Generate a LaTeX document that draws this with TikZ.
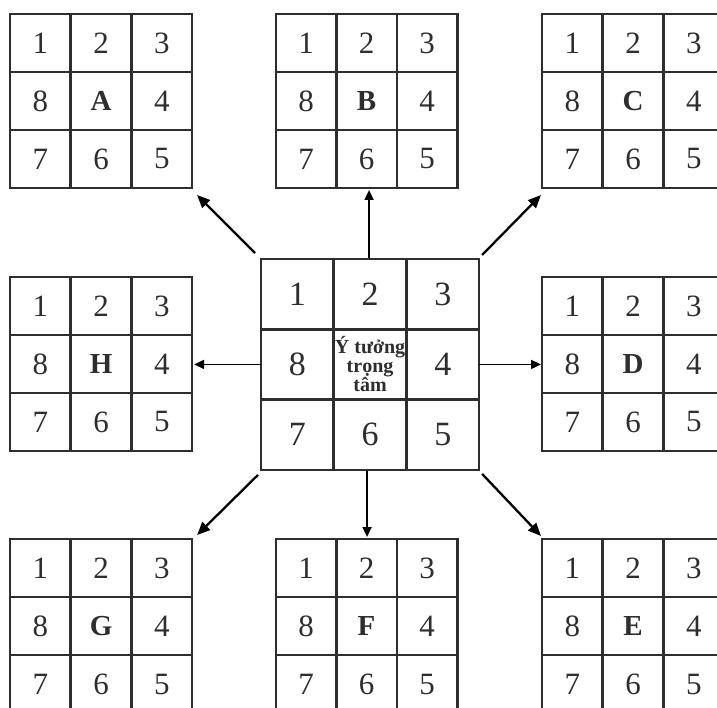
\documentclass[tikz,border=0pt]{standalone}
\usepackage{fontspec}
\setmainfont{Liberation Serif}
\usetikzlibrary{arrows.meta,calc}
\definecolor{ink}{HTML}{2E2E2E}
\tikzset{
  x=1pt, y=-1pt,
  cellbox/.style={draw=ink, line width=2.6pt, inner sep=0pt, outer sep=0pt,
    align=center, text=ink},
  outerfont/.style={font=\fontsize{31}{31}\selectfont},
  centerfont/.style={font=\fontsize{34}{34}\selectfont},
  letterfont/.style={font=\fontsize{29}{29}\selectfont\bfseries},
  ideafont/.style={font=\fontsize{20}{18.5}\selectfont\bfseries},
  frame/.style={draw=none, inner sep=0pt, outer sep=0pt},
  diagarrow/.style={line width=2.3pt, draw=black, -{Triangle[length=13pt,width=11pt]}},
  straightarrow/.style={line width=1.7pt, draw=black, -{Triangle[length=10pt,width=9pt]}}
}
\newcommand\gridname{}
\newcommand\gx{0}\newcommand\gy{0}\newcommand\gw{0}\newcommand\gh{0}
% one cell: #1 row, #2 col, #3 style, #4 text
\newcommand\onecell[4]{%
  \node[cellbox, #3, minimum width=\gw pt, minimum height=\gh pt]
    (\gridname-#1#2) at ({\gx+(#2+0.5)*\gw},{\gy+(#1+0.5)*\gh}) {#4};%
}
% #1 name, #2 left x, #3 top y, #4 cell w, #5 cell h, #6 centre text, #7 digit style, #8 centre style
\newcommand\ninegrid[8]{%
  \renewcommand\gridname{#1}\renewcommand\gx{#2}\renewcommand\gy{#3}%
  \renewcommand\gw{#4}\renewcommand\gh{#5}%
  \onecell{0}{0}{#7}{1}\onecell{0}{1}{#7}{2}\onecell{0}{2}{#7}{3}%
  \onecell{1}{0}{#7}{8}\onecell{1}{1}{#8}{#6}\onecell{1}{2}{#7}{4}%
  \onecell{2}{0}{#7}{7}\onecell{2}{1}{#7}{6}\onecell{2}{2}{#7}{5}%
  \node[frame, minimum width={3*#4pt}, minimum height={3*#5pt}]
    (#1) at ({#2+1.5*#4},{#3+1.5*#5}) {};%
}
\begin{document}
\begin{tikzpicture}
\useasboundingbox (0,0) rectangle (717,708);
\fill[white] (0,0) rectangle (717,708);
\clip (0,0) rectangle (717,708);

% centre grid
\ninegrid{ctr}{261}{259}{72.7}{70.3}{Ý tưởng\\trọng\\tâm}{centerfont}{ideafont}

% outer grids
\ninegrid{A}{10}{14}{60.7}{58}{A}{outerfont}{letterfont}
\ninegrid{B}{276}{14}{60.4}{58}{B}{outerfont}{letterfont}
\ninegrid{C}{542}{14}{60.7}{58}{C}{outerfont}{letterfont}
\ninegrid{H}{10}{277}{60.7}{58}{H}{outerfont}{letterfont}
\ninegrid{D}{542}{277}{60.7}{58}{D}{outerfont}{letterfont}
\ninegrid{G}{10}{539}{60.7}{58}{G}{outerfont}{letterfont}
\ninegrid{F}{276}{539}{60.4}{58}{F}{outerfont}{letterfont}
\ninegrid{E}{542}{539}{60.7}{58}{E}{outerfont}{letterfont}

% connectors
\draw[diagarrow] ([shift={(-6,-6)}]ctr.north west) -- ([shift={(5,7)}]A.south east);
\draw[diagarrow] ([shift={(3,-4)}]ctr.north east) -- ([shift={(-1,7)}]C.south west);
\draw[diagarrow] ([shift={(-3,5)}]ctr.south west) -- ([shift={(5,-4)}]G.north east);
\draw[diagarrow] ([shift={(3,4)}]ctr.south east) -- ([shift={(-1,-3)}]E.north west);
\draw[straightarrow] ([shift={(-1,-1)}]ctr.north) -- ([shift={(-1,2)}]ctr.north |- B.south);
\draw[straightarrow] ([shift={(-3,1)}]ctr.south) -- ([shift={(-3,-2)}]ctr.south |- F.north);
\draw[straightarrow] (ctr.west) -- ([shift={(2,0)}]ctr.west -| H.east);
\draw[straightarrow] (ctr.east) -- ([shift={(-1,0)}]ctr.east -| D.west);
\end{tikzpicture}
\end{document}
